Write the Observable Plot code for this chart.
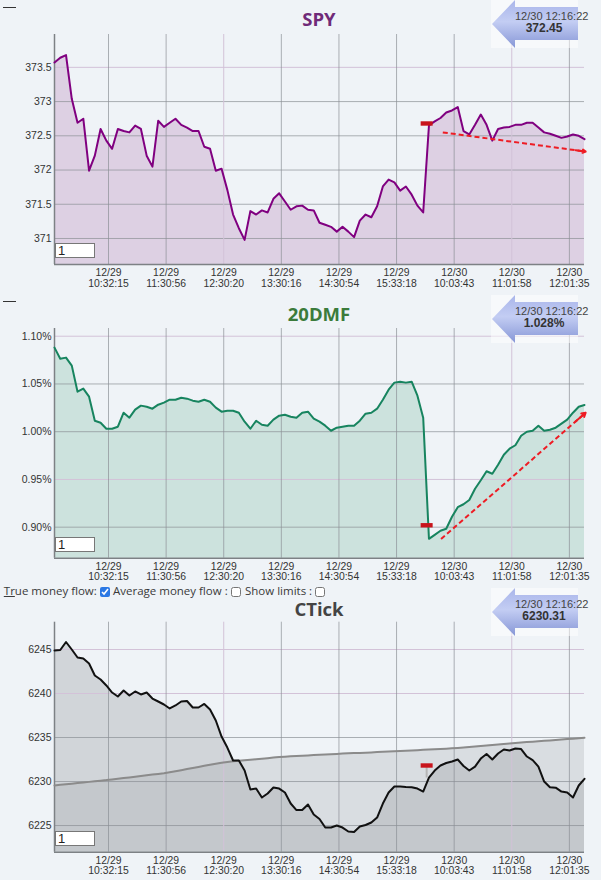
<!DOCTYPE html>
<html><head><meta charset="utf-8">
<script src="https://cdn.jsdelivr.net/npm/d3@7"></script>
<script src="https://cdn.jsdelivr.net/npm/@observablehq/plot@0.6"></script>
<style>
html,body{margin:0;padding:0;background:#eff3f7;}
body{width:601px;height:880px;position:relative;overflow:hidden;font-family:'Liberation Sans',Arial,sans-serif;}
.panel{position:absolute;left:0;width:601px;}
.panel svg{position:absolute;left:0;top:0;overflow:visible;}
.title{position:absolute;left:0;width:638px;text-align:center;font:700 18.5px/18.5px 'Open Sans',sans-serif;}
.badge{position:absolute;left:491px;width:110px;height:48px;overflow:visible;}
.inbox{position:absolute;left:55px;width:40px;height:15px;box-sizing:border-box;border:1px solid #777;background:#fff;font:13px/13px 'Liberation Sans',Arial,sans-serif;padding-left:2px;color:#222;}
.dash{position:absolute;left:3px;width:13px;height:0;border-top:1px solid #333;}
.opt{position:absolute;top:583.5px;font:11.5px/14px 'Open Sans',sans-serif;color:#3a3a3a;white-space:nowrap;}
.cb{position:absolute;top:586.5px;width:10px;height:10px;margin:0;accent-color:#2b78e4;}
</style>
</head><body>
<div id="p1" class="panel" style="top:0;height:295px"></div>
<div id="p2" class="panel" style="top:295px;height:292px"></div>
<div id="p3" class="panel" style="top:588px;height:292px"></div>

<div class="dash" style="top:7px"></div>
<div class="dash" style="top:301px"></div>
<div class="title" style="top:10px;color:#6f2a78">SPY</div>
<div class="title" style="top:305px;color:#3b7b3b">20DMF</div>
<div class="title" style="top:599.5px;color:#444">CTick</div>

<div class="inbox" style="top:242.7px">1</div>
<div class="inbox" style="top:536.7px">1</div>
<div class="inbox" style="top:830.7px">1</div>

<span class="opt" style="left:3.8px"><u>Tr</u>ue money flow:</span>
<input type="checkbox" class="cb" style="left:99.5px" checked>
<span class="opt" style="left:113px">Average money flow :</span>
<input type="checkbox" class="cb" style="left:230.7px">
<span class="opt" style="left:245px">Show limits :</span>
<input type="checkbox" class="cb" style="left:315px">

<script>
// ---------- data ----------
const xTickIdx = [9.375, 19.375, 29.375, 39.375, 49.375, 59.375, 69.375, 79.375, 89.375];
const xTickLabels = ["12/29\n10:32:15", "12/29\n11:30:56", "12/29\n12:30:20", "12/29\n13:30:16", "12/29\n14:30:54", "12/29\n15:33:18", "12/30\n10:03:43", "12/30\n11:01:58", "12/30\n12:01:35"];

const spyValues = [
373.57,373.64,373.68,373.04,372.69,372.75,371.99,372.21,372.60,372.43,
372.31,372.60,372.57,372.55,372.65,372.60,372.21,372.05,372.72,372.63,
372.69,372.75,372.66,372.62,372.57,372.57,372.34,372.31,371.99,372.02,
371.71,371.35,371.15,370.98,371.40,371.35,371.41,371.38,371.58,371.66,
371.54,371.42,371.47,371.48,371.42,371.41,371.23,371.20,371.17,371.10,
371.17,371.10,371.02,371.26,371.35,371.31,371.47,371.76,371.86,371.82,
371.70,371.76,371.64,371.48,371.38,372.65,372.71,372.76,372.84,372.87,
372.92,372.57,372.52,372.66,372.81,372.66,372.43,372.60,372.62,372.63,
372.66,372.66,372.69,372.69,372.62,372.55,372.53,372.50,372.47,372.49,
372.52,372.50,372.45];
const spyYTicks = [371, 371.5, 372, 372.5, 373, 373.5];
const spyLast = {time: "12/30 12:16:22", label: "372.45"};

const dmfValues = [
1.0881,1.0765,1.0776,1.0692,1.0419,1.0451,1.0367,1.0115,1.0094,1.0031,
1.0031,1.0052,1.0199,1.0147,1.0231,1.0273,1.0262,1.0241,1.0283,1.0304,
1.0335,1.0335,1.0356,1.0346,1.0325,1.0314,1.0335,1.0314,1.0252,1.0210,
1.0220,1.0220,1.0199,1.0105,1.0031,1.0115,1.0073,1.0063,1.0126,1.0168,
1.0178,1.0157,1.0147,1.0199,1.0210,1.0136,1.0105,1.0063,1.0010,1.0042,
1.0052,1.0063,1.0063,1.0115,1.0189,1.0199,1.0241,1.0335,1.0440,1.0514,
1.0524,1.0514,1.0524,1.0377,1.0147,0.8878,0.8920,0.8962,0.8983,0.9109,
0.9209,0.9240,0.9284,0.9403,0.9492,0.9586,0.9560,0.9654,0.9759,0.9822,
0.9858,0.9958,1.0000,1.0010,1.0063,1.0010,1.0021,1.0042,1.0084,1.0126,
1.0199,1.0262,1.0280];
const dmfYTicks = [0.90, 0.95, 1.00, 1.05, 1.10];
const dmfLast = {time: "12/30 12:16:22", label: "1.028%"};

const ctickValues = [
6244.89,6244.94,6245.85,6245.00,6244.09,6243.98,6243.41,6242.05,6241.59,6240.91,
6240.11,6239.66,6240.34,6239.77,6240.23,6239.89,6240.11,6239.43,6239.09,6238.75,
6238.30,6238.64,6239.09,6239.15,6238.41,6238.41,6238.81,6238.18,6236.93,6235.11,
6233.86,6232.39,6232.39,6231.25,6229.09,6229.20,6228.18,6228.64,6229.32,6229.20,
6228.75,6227.50,6226.76,6226.76,6227.39,6226.25,6225.74,6224.77,6224.77,6225.00,
6224.77,6224.32,6224.26,6224.89,6225.06,6225.34,6225.91,6227.50,6228.75,6229.43,
6229.43,6229.38,6229.35,6229.20,6228.86,6230.45,6231.25,6231.82,6232.10,6232.27,
6232.50,6231.76,6231.25,6231.70,6232.61,6233.13,6232.50,6233.18,6233.64,6233.52,
6233.75,6233.69,6232.84,6232.44,6231.70,6230.00,6229.35,6229.30,6228.86,6228.75,
6228.18,6229.55,6230.31];
const ctickAvg = [
6229.55,6229.62,6229.69,6229.75,6229.82,6229.89,6229.96,6230.03,6230.10,6230.16,
6230.24,6230.32,6230.40,6230.47,6230.55,6230.63,6230.71,6230.79,6230.86,6230.94,
6231.05,6231.17,6231.29,6231.41,6231.54,6231.66,6231.78,6231.90,6232.02,6232.14,
6232.23,6232.29,6232.35,6232.41,6232.47,6232.53,6232.59,6232.65,6232.72,6232.78,
6232.82,6232.86,6232.89,6232.93,6232.96,6233.00,6233.03,6233.07,6233.10,6233.14,
6233.17,6233.20,6233.23,6233.25,6233.28,6233.31,6233.34,6233.37,6233.40,6233.43,
6233.46,6233.49,6233.53,6233.56,6233.60,6233.63,6233.66,6233.70,6233.73,6233.77,
6233.82,6233.87,6233.93,6233.99,6234.04,6234.10,6234.16,6234.21,6234.27,6234.33,
6234.38,6234.43,6234.48,6234.53,6234.57,6234.62,6234.67,6234.72,6234.77,6234.82,
6234.87,6234.92,6234.97];
const ctickYTicks = [6225, 6230, 6235, 6240, 6245];
const ctickLast = {time: "12/30 12:16:22", label: "6230.31"};

// open-of-day markers (sample index, value) and trend annotations
const openIdx = 64.6;
const spyOpen = 372.68, dmfOpen = 0.9020, ctickOpen = 6231.82, ctickOpenLine = 6230.40;
const spyTrend = {x1: 67.4, y1: 372.55, x2: 92.2, y2: 372.27};
const dmfTrend = {x1: 67.1, y1: 0.8875, x2: 92.2, y2: 1.0199};

// ---------- drawing ----------
const TICK_FONT = "'Liberation Sans Narrow','Liberation Sans',Arial,sans-serif";
const labelMap = new Map(xTickIdx.map((d, k) => [d, xTickLabels[k]]));
const markerSymbol = {draw(ctx) { ctx.rect(-6, -2.2, 12, 4.4); }};

function panel(cfg) {
  const data = cfg.values.map((v, i) => ({i, v, a: cfg.avg ? cfg.avg[i] : null}));
  const y0 = cfg.yDomain[0];
  const gGrey = {stroke: "#8c9096", strokeOpacity: 0.7, strokeWidth: 1};
  const gPurp = {stroke: "#d3c2d8", strokeWidth: 1};
  const marks = [];
  if (cfg.avg) marks.push(Plot.areaY(data, {x: "i", y1: () => y0, y2: "a", fill: "#c3c7cb", fillOpacity: 0.5}));
  marks.push(Plot.areaY(data, {x: "i", y1: () => y0, y2: "v", fill: cfg.fill, fillOpacity: cfg.fillOpacity ?? 1}));
  marks.push(Plot.ruleY(cfg.yTicks.filter((d, k) => cfg.hGrid[k] === "g"), gGrey));
  marks.push(Plot.ruleY(cfg.yTicks.filter((d, k) => cfg.hGrid[k] === "p"), gPurp));
  marks.push(Plot.ruleX(xTickIdx.filter((d, k) => cfg.vGrid[k] === "g"), gGrey));
  marks.push(Plot.ruleX(xTickIdx.filter((d, k) => cfg.vGrid[k] === "p"), gPurp));
  marks.push(Plot.ruleX([0], {stroke: "#7d8185", strokeWidth: 1.5}));
  marks.push(Plot.ruleY([y0], {stroke: "#7d8185", strokeWidth: 1.5}));
  if (cfg.avg) marks.push(Plot.line(data, {x: "i", y: "a", stroke: "#8b8b8b", strokeWidth: 2}));
  marks.push(Plot.line(data, {x: "i", y: "v", stroke: cfg.stroke, strokeWidth: 2}));
  if (cfg.openLine != null) marks.push(Plot.ruleX([{i: openIdx, y1: cfg.open, y2: cfg.openLine}], {x: "i", y1: "y1", y2: "y2", stroke: "#b5b5b5", strokeWidth: 2}));
  marks.push(Plot.dot([{i: openIdx, v: cfg.open}], {x: "i", y: "v", symbol: markerSymbol, fill: "#c8141c", stroke: "none"}));
  if (cfg.trend) {
    const t = cfg.trend;
    marks.push(Plot.link([t], {x1: "x1", y1: "y1", x2: "x2", y2: "y2", stroke: "#ee1c24", strokeWidth: 2, strokeDasharray: "5,3"}));
    marks.push(Plot.arrow([t], {x1: d => d.x1 + (d.x2 - d.x1) * 0.93, y1: d => d.y1 + (d.y2 - d.y1) * 0.93, x2: "x2", y2: "y2", stroke: "#ee1c24", strokeWidth: 2, headLength: 7}));
  }
  marks.push(Plot.axisY(cfg.yTicks, {tickSize: 0, tickPadding: 3, tickFormat: cfg.yFmt, fontSize: 10.5, label: null}));
  marks.push(Plot.axisX(xTickIdx, {tickSize: 0, tickPadding: 4, tickFormat: d => labelMap.get(d), lineHeight: 1.02, fontSize: 10.4, label: null}));
  return Plot.plot({
    width: 601, height: cfg.height,
    marginLeft: 54, marginRight: 17, marginTop: cfg.marginTop, marginBottom: cfg.marginBottom,
    x: {domain: [0, 92], label: null},
    y: {domain: cfg.yDomain, label: null},
    style: {background: "transparent", overflow: "visible", fontFamily: TICK_FONT, fontSize: "10.5px", color: "#333"},
    marks
  });
}

function badge(top, info, gid) {
  const div = document.createElement("div");
  div.className = "badge";
  div.style.top = top + "px";
  div.innerHTML = `<svg width="110" height="48" style="overflow:visible">
    <defs><linearGradient id="${gid}" x1="0" y1="0" x2="0" y2="1">
      <stop offset="0" stop-color="#a9b5ea"/><stop offset="0.45" stop-color="#c3cdf3"/><stop offset="1" stop-color="#8696d6"/>
    </linearGradient></defs>
    <rect width="87" height="48" fill="#ffffff" fill-opacity="0.5"/>
    <polygon points="1,24 24,0 24,7 87,7 87,40 24,40 24,48" fill="url(#${gid})"/>
    <text x="24" y="19.5" font-family="'Liberation Sans',Arial,sans-serif" font-size="11" fill="#444">${info.time}</text>
    <text x="53" y="31.8" text-anchor="middle" font-family="'Liberation Sans',Arial,sans-serif" font-size="12" font-weight="700" fill="#333">${info.label}</text>
  </svg>`;
  document.body.appendChild(div);
}

document.getElementById("p1").appendChild(panel({
  values: spyValues, yDomain: [370.62, 373.98], yTicks: spyYTicks, yFmt: d => String(d),
  stroke: "#800080", fill: "#ddd0e3", hGrid: ["g","g","g","g","g","p"], vGrid: ["g","g","p","g","g","g","g","p","g"],
  open: spyOpen, trend: spyTrend, height: 295, marginTop: 34, marginBottom: 31
}));
document.getElementById("p2").appendChild(panel({
  values: dmfValues, yDomain: [0.8675, 1.1081], yTicks: dmfYTicks, yFmt: d => d.toFixed(2) + "%",
  stroke: "#17845f", fill: "#cce2dd", hGrid: ["g","p","g","g","p"], vGrid: ["g","g","g","g","g","g","g","p","g"],
  open: dmfOpen, trend: dmfTrend, height: 292, marginTop: 33, marginBottom: 29.3
}));
document.getElementById("p3").appendChild(panel({
  values: ctickValues, avg: ctickAvg, yDomain: [6221.97, 6248.10], yTicks: ctickYTicks, yFmt: d => String(d),
  stroke: "#111111", fill: "#a8acb0", fillOpacity: 0.42, hGrid: ["g","g","g","p","p"], vGrid: ["g","g","p","g","g","g","g","p","g"],
  open: ctickOpen, openLine: ctickOpenLine, height: 292, marginTop: 33.7, marginBottom: 28.3
}));

badge(0, spyLast, "ag1");
badge(295, dmfLast, "ag2");
badge(588, ctickLast, "ag3");
</script>
</body></html>
